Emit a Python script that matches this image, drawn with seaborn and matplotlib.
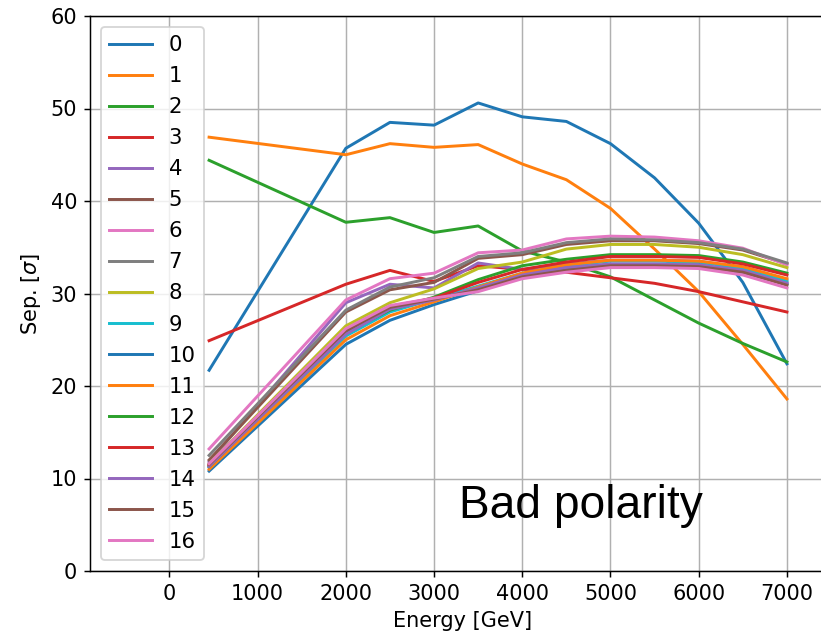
import seaborn as sns
import matplotlib.pyplot as plt
import pandas as pd

# energies (GeV) and separation per configuration
energy = [450, 2000, 2500, 3000, 3500, 4000, 4500, 5000, 5500, 6000, 6500, 7000]

sep_0 = [21.7, 45.7, 48.5, 48.2, 50.6, 49.1, 48.6, 46.2, 42.5, 37.6, 31.2, 22.4]
sep_1 = [46.9, 45.0, 46.2, 45.8, 46.1, 44.0, 42.3, 39.2, 34.8, 30.2, 24.5, 18.6]
sep_2 = [44.4, 37.7, 38.2, 36.6, 37.3, 34.6, 33.4, 31.8, 29.3, 26.8, 24.6, 22.6]
sep_3 = [24.9, 31.0, 32.5, 31.3, 33.0, 32.6, 32.3, 31.7, 31.1, 30.2, 29.1, 28.0]
sep_4 = [11.8, 29.0, 31.0, 30.6, 33.3, 32.6, 33.2, 33.6, 33.6, 33.5, 32.8, 31.2]
sep_5 = [12.0, 28.0, 30.4, 31.2, 33.8, 34.2, 35.3, 35.7, 35.7, 35.4, 34.7, 33.2]
sep_6 = [13.2, 29.3, 31.6, 32.2, 34.4, 34.7, 35.9, 36.2, 36.1, 35.7, 34.9, 33.1]
sep_7 = [12.5, 28.2, 30.7, 31.7, 34.0, 34.4, 35.5, 35.9, 35.8, 35.5, 34.8, 33.3]
sep_8 = [11.6, 26.5, 29.0, 30.5, 32.7, 33.4, 34.8, 35.3, 35.3, 35.0, 34.2, 32.8]
sep_9 = [11.2, 25.4, 28.0, 29.4, 30.8, 32.2, 33.0, 33.5, 33.5, 33.4, 32.7, 31.4]
sep_10 = [10.8, 24.5, 27.1, 28.8, 30.3, 31.8, 32.6, 33.1, 33.1, 33.1, 32.3, 31.0]
sep_11 = [11.0, 25.0, 27.6, 29.1, 30.7, 32.2, 33.1, 33.6, 33.6, 33.5, 32.9, 31.6]
sep_12 = [11.3, 25.8, 28.2, 29.6, 31.5, 33.0, 33.7, 34.2, 34.2, 34.1, 33.4, 32.2]
sep_13 = [11.4, 26.0, 28.6, 29.5, 31.2, 32.6, 33.4, 34.0, 34.0, 33.9, 33.2, 32.0]
sep_14 = [11.3, 25.6, 28.3, 29.3, 30.6, 32.0, 32.8, 33.2, 33.2, 33.1, 32.5, 31.1]
sep_15 = [11.5, 26.0, 28.5, 29.4, 30.4, 31.8, 32.5, 33.0, 33.0, 32.9, 32.3, 30.9]
sep_16 = [11.6, 26.2, 28.7, 29.5, 30.2, 31.6, 32.3, 32.8, 32.8, 32.7, 32.0, 30.6]

all_sep = [sep_0, sep_1, sep_2, sep_3, sep_4, sep_5, sep_6, sep_7, sep_8,
           sep_9, sep_10, sep_11, sep_12, sep_13, sep_14, sep_15, sep_16]
labels = [str(i) for i in range(len(all_sep))]

df = pd.concat(
    [pd.DataFrame({"energy": energy, "sep": s, "run": lab}) for s, lab in zip(all_sep, labels)]
)

colors = sns.color_palette("tab10", 10)
plt.rcParams["font.size"] = 11.3

dpi = 133
fig = plt.figure(figsize=(821 / dpi, 634 / dpi), dpi=dpi)
ax = fig.add_axes([90 / 821, 63 / 634, 745 / 821, 555 / 634])

for i, lab in enumerate(labels):
    sub = df[df.run == lab]
    sns.lineplot(data=sub, x="energy", y="sep", color=colors[i % 10], label=lab,
                 linewidth=1.6, ax=ax)

ax.set_xlim(-900, 7545)
ax.set_ylim(0, 60)
ax.grid(True, color="#b0b0b0", linewidth=0.8)
ax.set_xlabel("Energy [GeV]", fontsize=11.3)
ax.set_ylabel(r"Sep. [$\sigma$]", fontsize=11.3)
ax.legend(loc="upper left", fontsize=11.5, labelspacing=0.52)

ax.text(0.495, 0.095, "Bad polarity", transform=ax.transAxes, fontsize=25,
        family="Liberation Sans", va="baseline", ha="left")

fig.savefig("out.png", dpi=dpi)
